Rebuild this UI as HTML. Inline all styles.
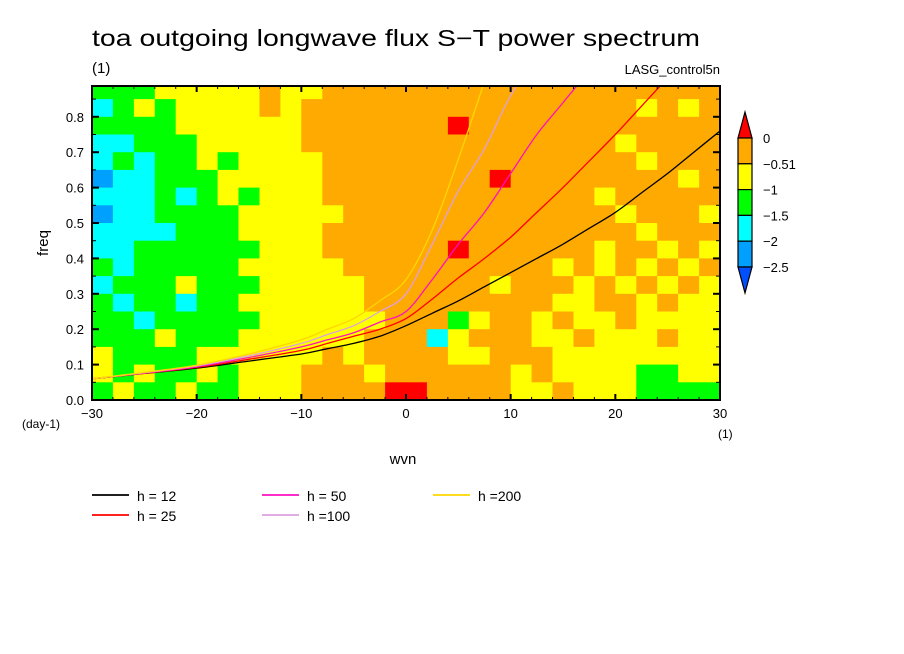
<!DOCTYPE html>
<html><head><meta charset="utf-8">
<style>
html,body{margin:0;padding:0;background:#fff;}
svg{display:block;font-family:"Liberation Sans",sans-serif;}
</style></head>
<body>
<svg id="chart" width="904" height="654" viewBox="0 0 904 654">
  <text x="92" y="46" font-size="23" fill="#000" textLength="608" lengthAdjust="spacingAndGlyphs">toa outgoing longwave flux S−T power spectrum</text>
  <text x="92" y="73" font-size="15" fill="#000">(1)</text>
  <text x="720" y="74" font-size="13" fill="#000" text-anchor="end">LASG_control5n</text>
  <g id="field"></g>
  <g id="curves"></g>
  <rect x="92" y="86" width="628" height="314" fill="none" stroke="#000" stroke-width="2"/>
  <g id="axes"></g>
  <text x="403" y="464" font-size="15" text-anchor="middle">wvn</text>
  <text x="48" y="243" font-size="15" text-anchor="middle" transform="rotate(-90 48 243)">freq</text>
  <text x="22" y="428" font-size="12">(day-1)</text>
  <text x="718" y="438" font-size="12">(1)</text>
  <g id="colorbar"></g>
  <g id="legend"></g>
</svg>
<script>
// ---- data ----
const xTicks = [-30,-20,-10,0,10,20,30];
const yTicks = [0.0,0.1,0.2,0.3,0.4,0.5,0.6,0.7,0.8];
const yTickLabels = ["0.0","0.1","0.2","0.3","0.4","0.5","0.6","0.7","0.8"];
const levelLabels = ["0","-0.51","-1","-1.5","-2","-2.5"];
const levelColors = ["#ff0000","#ffaa00","#ffff00","#00ff00","#00ffff","#00a0ff"];
const triBottomColor = "#0050ff";
// field grid: rows from top (0.85-0.90) to bottom (0.00-0.05), 30 cols of 2 wavenumbers
// 1=blue 2=cyan 3=green 4=yellow 5=orange 6=red
const fieldRows = [
"333444445445555555555555555555",
"234344445455555555555555554545",
"333344444455555556555555555555",
"223334444455555555555555545555",
"232334344445555555555555554555",
"122333444445555555565555555545",
"222323434445555555555555455555",
"122333344444555555555555545554",
"222233344445555555555555554555",
"223333334445555556555555455454",
"323333344444555555555545454545",
"233343334444455555545554545454",
"323323344444455555555544554544",
"332333334444445553455454454444",
"333433344444455524555445444544",
"433334444445455554455544444444",
"434334344455545555554544443344",
"343343344455556655554454443333"];
const fieldColors = {"1":"#00a0ff","2":"#00ffff","3":"#00ff00","4":"#ffff00","5":"#ffaa00","6":"#ff0000"};
const curveWvn = [-30,-25,-20,-15,-10,-7.5,-5,-2.5,0,2.5,5,7.5,10,12.5,15,17.5,20,22.5,25,27.5,30];
const h12  = [0.06,0.075,0.09,0.11,0.13,0.145,0.16,0.18,0.21,0.245,0.28,0.32,0.36,0.40,0.44,0.485,0.53,0.585,0.64,0.70,0.76];
const h25  = [0.06,0.075,0.092,0.115,0.14,0.16,0.18,0.20,0.23,0.285,0.345,0.40,0.46,0.53,0.60,0.675,0.75,0.83,0.91,null,null];
const h50  = [0.06,0.076,0.094,0.12,0.15,0.17,0.19,0.22,0.25,0.34,0.44,0.53,0.64,0.75,0.84,0.93,null,null,null,null,null];
const h100 = [0.06,0.077,0.096,0.125,0.16,0.185,0.21,0.25,0.30,0.44,0.59,0.71,0.86,0.97,null,null,null,null,null,null,null];
const h200 = [0.06,0.078,0.098,0.13,0.17,0.20,0.23,0.28,0.34,0.48,0.68,0.90,null,null,null,null,null,null,null,null,null];
const seriesNames = ["h = 12","h = 25","h = 50","h =100","h =200"];
const seriesColors = ["#000000","#ff0000","#ff10c0","#dda0dd","#ffd700"];
const seriesData = [h12,h25,h50,h100,h200];

// ---- axes ----
const X0=92,X1=720,Y0=400,YTOP=86;
const xs = w => X0 + (w+30)/60*(X1-X0);
const ys = f => Y0 - f/0.1*35.4;
const NS="http://www.w3.org/2000/svg";
function mk(tag,attrs,parent){const e=document.createElementNS(NS,tag);for(const k in attrs)e.setAttribute(k,attrs[k]);parent.appendChild(e);return e;}

// field
const fg=document.getElementById('field');
const cw=(X1-X0)/30, fmax=0.9;
fieldRows.forEach((row,ri)=>{
  for(let ci=0;ci<row.length;ci++){
    const ftop=fmax-ri*0.05, fbot=ftop-0.05;
    const yt=Math.max(ys(ftop),YTOP), yb=ys(fbot);
    const r=mk('rect',{x:(X0+ci*cw).toFixed(1),y:yt.toFixed(1),width:(cw+0.6).toFixed(1),height:(yb-yt+0.6).toFixed(1),fill:fieldColors[row[ci]]},fg);
    
    
  }
});

// curves (smoothed with Catmull-Rom)
const cg=document.getElementById('curves');
const clipEl=mk('clipPath',{id:'pc'},cg); mk('rect',{x:X0,y:YTOP,width:X1-X0,height:Y0-YTOP},clipEl);
seriesData.forEach((d,si)=>{
  const P=[];
  d.forEach((v,i)=>{ if(v!==null) P.push([xs(curveWvn[i]),ys(v)]); });
  let s='M'+P[0][0].toFixed(1)+','+P[0][1].toFixed(1);
  for(let i=0;i<P.length-1;i++){
    const p0=P[Math.max(i-1,0)],p1=P[i],p2=P[i+1],p3=P[Math.min(i+2,P.length-1)];
    const c1=[p1[0]+(p2[0]-p0[0])/6,p1[1]+(p2[1]-p0[1])/6];
    const c2=[p2[0]-(p3[0]-p1[0])/6,p2[1]-(p3[1]-p1[1])/6];
    s+=` C${c1[0].toFixed(1)},${c1[1].toFixed(1)} ${c2[0].toFixed(1)},${c2[1].toFixed(1)} ${p2[0].toFixed(1)},${p2[1].toFixed(1)}`;
  }
  const p=mk('path',{d:s,fill:'none',stroke:seriesColors[si],'stroke-width':1.3,'clip-path':'url(#pc)'},cg);
  
  
});

// ticks
const ag=document.getElementById('axes');
for(let w=-30;w<=30;w+=2){
  const big=(w%10===0), L=big?6:3;
  mk('line',{x1:xs(w),x2:xs(w),y1:Y0,y2:Y0-L,stroke:'#000','stroke-width':big?2:1},ag);
  mk('line',{x1:xs(w),x2:xs(w),y1:YTOP,y2:YTOP+L,stroke:'#000','stroke-width':big?2:1},ag);
}
for(let k=0;k<=17;k++){
  const f=k*0.05, big=(k%2===0), L=big?7:4;
  mk('line',{x1:X0,x2:X0+L,y1:ys(f),y2:ys(f),stroke:'#000','stroke-width':big?2:1},ag);
  mk('line',{x1:X1,x2:X1-L,y1:ys(f),y2:ys(f),stroke:'#000','stroke-width':big?2:1},ag);
}
xTicks.forEach(w=>{
  const t=mk('text',{x:xs(w),y:418,'font-size':13,'text-anchor':'middle'},ag);
  t.textContent=(w<0?'−'+(-w):''+w);
  
  
});
yTicks.forEach((f,i)=>{
  const t=mk('text',{x:84,y:ys(f)+5,'font-size':13,'text-anchor':'end'},ag);
  t.textContent=yTickLabels[i];
  
  
});

// colorbar
const cb=document.getElementById('colorbar');
const bx=738,bw=14,cbTop=138,step=25.8;
mk('polygon',{points:`${bx},${cbTop} ${bx+bw},${cbTop} ${bx+bw/2},${cbTop-26}`,fill:levelColors[0],stroke:'#000','stroke-width':1.2},cb);
for(let i=1;i<levelColors.length;i++){
  mk('rect',{x:bx,y:cbTop+(i-1)*step,width:bw,height:step,fill:levelColors[i],stroke:'#000','stroke-width':1.2},cb);
}
const bb=cbTop+(levelColors.length-1)*step;
mk('polygon',{points:`${bx},${bb} ${bx+bw},${bb} ${bx+bw/2},${bb+26}`,fill:triBottomColor,stroke:'#000','stroke-width':1.2},cb);
levelLabels.forEach((s,i)=>{
  const t=mk('text',{x:763,y:cbTop+i*step+5,'font-size':13},cb);
  t.textContent=s.replace('-','−');
  
  
});

// legend
const lg=document.getElementById('legend');
const lpos=[[92,495],[92,515],[262,495],[262,515],[433,495]];
seriesNames.forEach((n,i)=>{
  const [lx,ly]=lpos[i];
  const e=mk('g',{},lg);
  
  
  mk('line',{x1:lx,x2:lx+37,y1:ly,y2:ly,stroke:seriesColors[i],'stroke-width':1.8},e);
  const t=mk('text',{x:lx+45,y:ly+6,'font-size':14},e);
  t.textContent=n;
});
</script>
</body></html>
